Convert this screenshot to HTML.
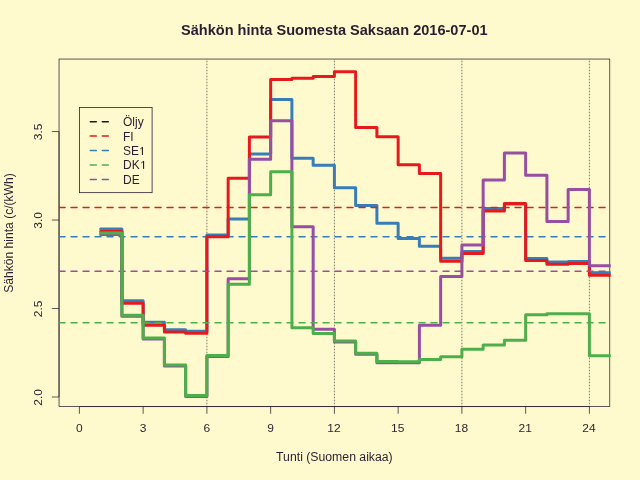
<!DOCTYPE html>
<html><head><meta charset="utf-8"><style>
html,body{margin:0;padding:0;background:#FFFACD;}
svg{display:block;will-change:transform;opacity:0.999}
text{font-family:"Liberation Sans",sans-serif;fill:#2a1f30}
</style></head><body>
<svg width="640" height="480" viewBox="0 0 640 480">
<rect width="640" height="480" fill="#FFFACD"/>
<defs><clipPath id="c"><rect x="59.04" y="59.04" width="551.72" height="348.52"/></clipPath></defs>
<rect x="59.04" y="59.04" width="550.72" height="347.52" fill="none" stroke="#2a1f30" stroke-width="0.75"/>
<g stroke="#2a1f30" stroke-width="0.75" fill="none">
<path d="M79.40 406.56 H589.40"/>
<path d="M79.40 406.56 v7.2"/><path d="M143.15 406.56 v7.2"/><path d="M206.90 406.56 v7.2"/><path d="M270.65 406.56 v7.2"/><path d="M334.40 406.56 v7.2"/><path d="M398.15 406.56 v7.2"/><path d="M461.90 406.56 v7.2"/><path d="M525.65 406.56 v7.2"/><path d="M589.40 406.56 v7.2"/>
<path d="M59.04 397.00 V131.56"/>
<path d="M59.04 397.00 h-7.2"/><path d="M59.04 308.52 h-7.2"/><path d="M59.04 220.04 h-7.2"/><path d="M59.04 131.56 h-7.2"/>
</g>
<g clip-path="url(#c)" fill="none">
<g stroke="#2a1f30" stroke-width="0.75" stroke-dasharray="0.75 2.25" stroke-linecap="round" stroke-opacity="0.8">
<line x1="206.90" y1="58.12" x2="206.90" y2="406.56"/>
<line x1="334.40" y1="58.12" x2="334.40" y2="406.56"/>
<line x1="461.90" y1="58.12" x2="461.90" y2="406.56"/>
<line x1="589.40" y1="58.12" x2="589.40" y2="406.56"/>
</g>
<g stroke-linejoin="round" stroke-linecap="round">
<path d="M100.65 229.00 L121.90 229.00 L121.90 300.80 L143.15 300.80 L143.15 322.30 L164.40 322.30 L164.40 329.70 L185.65 329.70 L185.65 331.20 L206.90 331.20 L206.90 234.90 L228.15 234.90 L228.15 219.00 L249.40 219.00 L249.40 154.05 L270.65 154.05 L270.65 99.60 L291.90 99.60 L291.90 158.30 L313.15 158.30 L313.15 165.20 L334.40 165.20 L334.40 187.75 L355.65 187.75 L355.65 205.48 L376.90 205.48 L376.90 223.21 L398.15 223.21 L398.15 238.60 L419.40 238.60 L419.40 246.27 L440.65 246.27 L440.65 258.30 L461.90 258.30 L461.90 251.59 L483.15 251.59 L483.15 208.60 L504.40 208.60 L504.40 204.00 L525.65 204.00 L525.65 258.40 L546.90 258.40 L546.90 262.10 L568.15 262.10 L568.15 261.50 L589.40 261.50 L589.40 272.87 L610.65 272.87" stroke="#377EB8" stroke-width="3"/>
<line x1="59.04" x2="609.76" y1="236.7" y2="236.7" stroke="#377EB8" stroke-width="1.5" stroke-dasharray="6 6"/>
<path d="M100.65 231.50 L121.90 231.50 L121.90 303.20 L143.15 303.20 L143.15 325.30 L164.40 325.30 L164.40 332.00 L185.65 332.00 L185.65 333.30 L206.90 333.30 L206.90 236.80 L228.15 236.80 L228.15 178.20 L249.40 178.20 L249.40 137.00 L270.65 137.00 L270.65 79.57 L291.90 79.57 L291.90 78.30 L313.15 78.30 L313.15 76.40 L334.40 76.40 L334.40 71.80 L355.65 71.80 L355.65 127.45 L376.90 127.45 L376.90 136.70 L398.15 136.70 L398.15 164.69 L419.40 164.69 L419.40 173.56 L440.65 173.56 L440.65 261.20 L461.90 261.20 L461.90 253.60 L483.15 253.60 L483.15 211.00 L504.40 211.00 L504.40 203.60 L525.65 203.60 L525.65 260.50 L546.90 260.50 L546.90 264.30 L568.15 264.30 L568.15 263.60 L589.40 263.60 L589.40 275.30 L610.65 275.30" stroke="#E41A1C" stroke-width="3"/>
<line x1="59.04" x2="609.76" y1="207.5" y2="207.5" stroke="#E41A1C" stroke-width="1.5" stroke-dasharray="6 6"/>
<path d="M100.65 234.40 L121.90 234.40 L121.90 316.30 L143.15 316.30 L143.15 339.00 L164.40 339.00 L164.40 366.00 L185.65 366.00 L185.65 396.45 L206.90 396.45 L206.90 356.55 L228.15 356.55 L228.15 278.70 L249.40 278.70 L249.40 159.37 L270.65 159.37 L270.65 120.80 L291.90 120.80 L291.90 226.76 L313.15 226.76 L313.15 329.20 L334.40 329.20 L334.40 341.90 L355.65 341.90 L355.65 354.30 L376.90 354.30 L376.90 362.70 L398.15 362.70 L398.15 362.80 L419.40 362.80 L419.40 325.20 L440.65 325.20 L440.65 276.41 L461.90 276.41 L461.90 245.00 L483.15 245.00 L483.15 179.90 L504.40 179.90 L504.40 153.00 L525.65 153.00 L525.65 175.33 L546.90 175.33 L546.90 221.44 L568.15 221.44 L568.15 189.52 L589.40 189.52 L589.40 265.77 L610.65 265.77" stroke="#984EA3" stroke-width="3"/>
<line x1="59.04" x2="609.76" y1="271.15" y2="271.15" stroke="#984EA3" stroke-width="1.5" stroke-dasharray="6 6"/>
<path d="M100.65 233.10 L121.90 233.10 L121.90 315.20 L143.15 315.20 L143.15 337.90 L164.40 337.90 L164.40 365.08 L185.65 365.08 L185.65 395.50 L206.90 395.50 L206.90 355.60 L228.15 355.60 L228.15 284.30 L249.40 284.30 L249.40 194.84 L270.65 194.84 L270.65 171.79 L291.90 171.79 L291.90 327.84 L313.15 327.84 L313.15 333.40 L334.40 333.40 L334.40 341.00 L355.65 341.00 L355.65 353.30 L376.90 353.30 L376.90 361.50 L398.15 361.50 L398.15 361.70 L419.40 361.70 L419.40 359.40 L440.65 359.40 L440.65 356.70 L461.90 356.70 L461.90 349.20 L483.15 349.20 L483.15 345.00 L504.40 345.00 L504.40 340.25 L525.65 340.25 L525.65 314.70 L546.90 314.70 L546.90 313.65 L568.15 313.65 L568.15 313.65 L589.40 313.65 L589.40 355.70 L610.65 355.70" stroke="#4DAF4A" stroke-width="3"/>
<line x1="59.04" x2="609.76" y1="322.7" y2="322.7" stroke="#4DAF4A" stroke-width="1.5" stroke-dasharray="6 6"/>
</g>
</g>
<g font-size="12px" text-anchor="middle">
<text transform="translate(79.40 432) scale(1 0.93)">0</text><text transform="translate(143.15 432) scale(1 0.93)">3</text><text transform="translate(206.90 432) scale(1 0.93)">6</text><text transform="translate(270.65 432) scale(1 0.93)">9</text><text transform="translate(333.90 432) scale(1 0.93)">12</text><text transform="translate(397.65 432) scale(1 0.93)">15</text><text transform="translate(461.40 432) scale(1 0.93)">18</text><text transform="translate(525.15 432) scale(1 0.93)">21</text><text transform="translate(588.90 432) scale(1 0.93)">24</text>
<text transform="translate(42 397.30) rotate(-90) scale(1 0.93)">2.0</text><text transform="translate(42 308.82) rotate(-90) scale(1 0.93)">2.5</text><text transform="translate(42 220.34) rotate(-90) scale(1 0.93)">3.0</text><text transform="translate(42 131.86) rotate(-90) scale(1 0.93)">3.5</text>
<text x="334.4" y="460.8" textLength="116.6" lengthAdjust="spacingAndGlyphs">Tunti (Suomen aikaa)</text>
<text transform="translate(13.1 233.0) rotate(-90)" textLength="119.6" lengthAdjust="spacingAndGlyphs">Sähkön hinta (c/(kWh)</text>
</g>
<text x="181.0" y="35" font-size="14.4px" font-weight="bold" textLength="306.6" lengthAdjust="spacingAndGlyphs">Sähkön hinta Suomesta Saksaan 2016-07-01</text>
<rect x="79.55" y="107.55" width="72.55" height="85.1" fill="#FFFACD" stroke="#2a1f30" stroke-width="0.8"/>
<g stroke-width="1.5" stroke-dasharray="6 6" stroke-linecap="round" fill="none">
<line x1="90.3" x2="109" y1="121.8" y2="121.8" stroke="#1c1420"/>
<line x1="90.3" x2="109" y1="136" y2="136" stroke="#E41A1C"/>
<line x1="90.3" x2="109" y1="150.5" y2="150.5" stroke="#377EB8"/>
<line x1="90.3" x2="109" y1="165" y2="165" stroke="#4DAF4A"/>
<line x1="90.3" x2="109" y1="179.5" y2="179.5" stroke="#984EA3"/>
</g>
<g font-size="12px">
<text x="123" y="126">Öljy</text>
<text x="123" y="140.5">FI</text>
<text x="123" y="155">SE</text>
<text x="123" y="168.9">DK</text>
<text x="123" y="184">DE</text>
</g>
<g stroke="#2a1f30" fill="none">
<path d="M142.45 147.1 V154.95" stroke-width="1.15"/><path d="M140.2 149.0 L142.3 147.5" stroke-width="0.9"/>
<path d="M143.55 161.0 V168.85" stroke-width="1.15"/><path d="M141.3 162.9 L143.4 161.4" stroke-width="0.9"/>
</g>
</svg>
</body></html>
